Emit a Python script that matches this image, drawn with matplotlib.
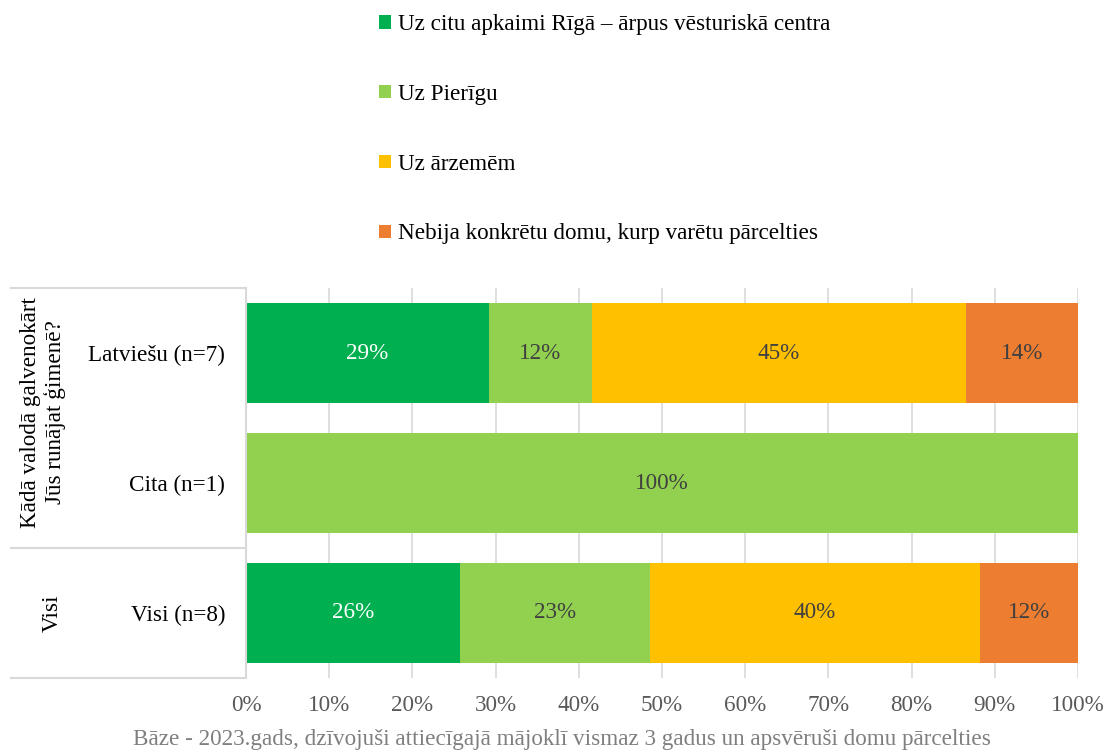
import matplotlib
matplotlib.use("Agg")
import matplotlib.pyplot as plt
from matplotlib.lines import Line2D
from matplotlib.ticker import FuncFormatter, MultipleLocator

plt.rcParams['font.family'] = ['Liberation Serif', 'DejaVu Serif']

categories = ["Latviešu (n=7)", "Cita (n=1)", "Visi (n=8)"]
series_names = ["Uz citu apkaimi Rīgā – ārpus vēsturiskā centra",
                "Uz Pierīgu",
                "Uz ārzemēm",
                "Nebija konkrētu domu, kurp varētu pārcelties"]
values_riga = [29.2, 0.0, 25.7]
values_pieriga = [12.4, 100.0, 22.9]
values_arzemes = [44.9, 0.0, 39.6]
values_nebija = [13.5, 0.0, 11.8]
labels_riga = ["29%", "", "26%"]
labels_pieriga = ["12%", "100%", "23%"]
labels_arzemes = ["45%", "", "40%"]
labels_nebija = ["14%", "", "12%"]
group_labels = ["Kādā valodā galvenokārt\nJūs runājat ģimenē?", "Visi"]
footnote = "Bāze - 2023.gads, dzīvojuši attiecīgajā mājoklī vismaz 3 gadus un apsvēruši domu pārcelties"

colors = ["#00B050", "#92D050", "#FFC000", "#ED7D31"]
text_colors = ["white", "#404040", "#404040", "#404040"]
FS = 16.7

fig = plt.figure(figsize=(11.11, 7.53), dpi=100)
ax = fig.add_axes([246/1111, 1-678/753, 832/1111, 390/753])

ypos = list(range(len(categories)))
all_vals = [values_riga, values_pieriga, values_arzemes, values_nebija]
all_labels = [labels_riga, labels_pieriga, labels_arzemes, labels_nebija]
left = [0.0]*len(categories)
handles = []
for vals, labs, c, tc, name in zip(all_vals, all_labels, colors, text_colors, series_names):
    bars = ax.barh(ypos, vals, left=left, height=0.77, color=c, label=name, zorder=3)
    handles.append(bars)
    for b, lab in zip(bars, labs):
        if lab:
            ax.text(b.get_x()+b.get_width()/2, b.get_y()+b.get_height()/2, lab,
                    ha='center', va='center', color=tc, fontsize=FS, zorder=4)
    left = [l+v for l, v in zip(left, vals)]

ax.set_xlim(0, 100)
ax.set_ylim(2.5, -0.5)
ax.xaxis.set_major_locator(MultipleLocator(10))
ax.xaxis.set_major_formatter(FuncFormatter(lambda v, p: f"{int(round(v))}%"))
ax.grid(axis='x', color='#D9D9D9', linewidth=1.2, zorder=0)
ax.tick_params(axis='x', length=0, labelsize=FS, labelcolor='#595959', pad=12)
ax.set_yticks(ypos)
ax.set_yticklabels(categories, fontsize=FS, color='black')
ax.tick_params(axis='y', length=0, pad=15)
for s in ['top', 'right', 'bottom']:
    ax.spines[s].set_visible(False)
ax.spines['left'].set_color('#D9D9D9')
ax.spines['left'].set_linewidth(1.5)
ax.spines['left'].set_zorder(5)

# table-like separator lines for multi-level category axis
x0 = (11-246)/832
for yy in [1.0, 1/3, 0.0]:
    ax.add_line(Line2D([x0, 0], [yy, yy], transform=ax.transAxes, color='#D9D9D9',
                       linewidth=1.5, clip_on=False))

ax.text((43-246)/832, (678-412)/390, group_labels[0], transform=ax.transAxes, rotation=90,
        ha='center', va='center', fontsize=FS, linespacing=1.15)
ax.text((52-246)/832, (678-613)/390, group_labels[1], transform=ax.transAxes, rotation=90,
        ha='center', va='center', fontsize=FS)

leg = fig.legend(handles=handles, loc='upper left', bbox_to_anchor=(370/1111, 1-5/753),
                 frameon=False, fontsize=FS, labelspacing=2.1, handlelength=0.5,
                 handleheight=0.5, handletextpad=0.3, borderaxespad=0)

fig.text(562/1111, 1-740/753, footnote, ha='center', va='center', fontsize=FS, color='#7F7F7F')

fig.savefig("out.png", dpi=100)
